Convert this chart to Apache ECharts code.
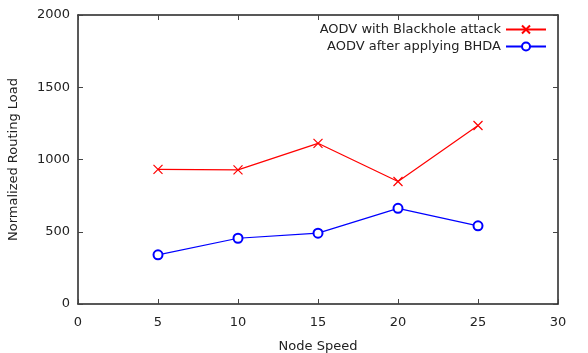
<!DOCTYPE html>
<html>
<head>
<meta charset="utf-8">
<script src="https://cdn.jsdelivr.net/npm/echarts@6/dist/echarts.min.js"></script>
<style>
  html, body { margin: 0; padding: 0; background: #fff; }
  #main { width: 588px; height: 353px; }
</style>
</head>
<body>
<div id="main"></div>
<script>
// node speed on the x axis
var speeds = [5, 10, 15, 20, 25];
var blackhole = [932, 928, 1112, 848, 1235];
var bhda = [340, 455, 490, 662, 541];
var xTicks = [0, 5, 10, 15, 20, 25, 30];
var yTicks = [0, 500, 1000, 1500, 2000];

var myChart = echarts.init(document.getElementById('main'));
var font = 'DejaVu Sans';
var axisLine = { show: true, onZero: false, lineStyle: { color: '#222', width: 1.5 } };
var tick = { show: true, inside: true, length: 5, lineStyle: { color: '#444' } };
var plain = function (v) { return String(v); };

var option = {
  animation: false,
  textStyle: { fontFamily: font },
  grid: { left: 78, right: 30, top: 15, bottom: 49, outerBoundsMode: 'none' },
  legend: {
    orient: 'vertical',
    right: 36,
    top: 18,
    align: 'right',
    itemWidth: 40,
    itemHeight: 10,
    itemGap: 4,
    textStyle: { fontFamily: font, fontSize: 13, color: '#222' },
    data: ['AODV with Blackhole attack', 'AODV after applying BHDA']
  },
  xAxis: [{
    type: 'value',
    min: xTicks[0],
    max: xTicks[xTicks.length - 1],
    interval: 5,
    name: 'Node Speed',
    nameLocation: 'middle',
    nameGap: 36,
    nameTextStyle: { fontFamily: font, fontSize: 13, color: '#222' },
    axisLine: axisLine,
    axisTick: tick,
    axisLabel: { fontFamily: font, fontSize: 13, color: '#222', margin: 12, formatter: plain },
    splitLine: { show: false }
  }, {
    type: 'value',
    position: 'top',
    min: xTicks[0],
    max: xTicks[xTicks.length - 1],
    interval: 5,
    axisLine: axisLine,
    axisTick: tick,
    axisLabel: { show: false },
    splitLine: { show: false }
  }],
  yAxis: [{
    type: 'value',
    min: yTicks[0],
    max: yTicks[yTicks.length - 1],
    interval: 500,
    name: 'Normalized Routing Load',
    nameLocation: 'middle',
    nameGap: 58,
    nameTextStyle: { fontFamily: font, fontSize: 13, color: '#222' },
    axisLine: axisLine,
    axisTick: tick,
    axisLabel: { fontFamily: font, fontSize: 13, color: '#222', margin: 8, formatter: plain },
    splitLine: { show: false }
  }, {
    type: 'value',
    position: 'right',
    min: yTicks[0],
    max: yTicks[yTicks.length - 1],
    interval: 500,
    axisLine: axisLine,
    axisTick: tick,
    axisLabel: { show: false },
    splitLine: { show: false }
  }],
  series: [{
    name: 'AODV with Blackhole attack',
    type: 'line',
    data: speeds.map(function (s, i) { return [s, blackhole[i]]; }),
    symbol: 'path://M0,0L10,10M10,0L0,10',
    symbolSize: 9,
    lineStyle: { color: '#ff0000', width: 1.2 },
    itemStyle: { color: '#ff0000', borderColor: '#ff0000', borderWidth: 1.2 }
  }, {
    name: 'AODV after applying BHDA',
    type: 'line',
    data: speeds.map(function (s, i) { return [s, bhda[i]]; }),
    symbol: 'emptyCircle',
    symbolSize: 9,
    lineStyle: { color: '#0000ff', width: 1.2 },
    itemStyle: { color: '#0000ff', borderColor: '#0000ff', borderWidth: 1.2 }
  }]
};

myChart.setOption(option);
</script>
</body>
</html>
